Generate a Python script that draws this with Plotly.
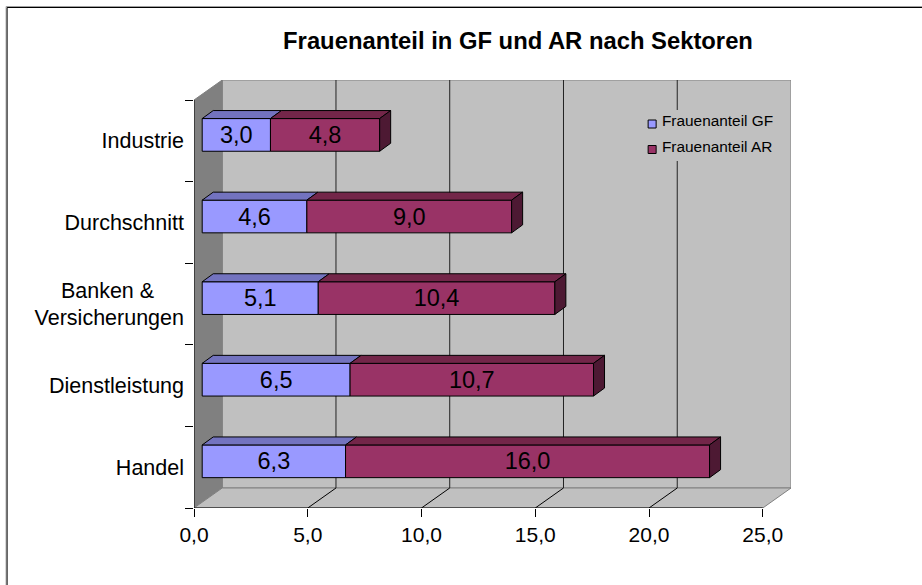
import plotly.graph_objects as go

CATEGORIES = ["Handel", "Dienstleistung", "Banken &\u00a0\u00a0\u00a0\u00a0\u00a0<br>Versicherungen", "Durchschnitt", "Industrie"]
GF_VALUES = [6.3, 6.5, 5.1, 4.6, 3.0]
AR_VALUES = [16.0, 10.7, 10.4, 9.0, 4.8]
X_TICKS = [0, 5, 10, 15, 20, 25]
SERIES_NAMES = ["Frauenanteil GF", "Frauenanteil AR"]
TITLE = "Frauenanteil in GF und AR nach Sektoren"

W, H = 922, 585
L, R, T, B = 194.3, 791.0, 80.0, 508.0
X_MAX = (R - L) / 22.74
UY = 81.6                       # px per category band
Y_MIN, Y_MAX = -0.5, -0.5 + (B - T) / UY
DX, DY = X_MAX - 25, Y_MAX - 4.5       # chart depth in axis units
BAR_OX, BAR_OY = 8.2 / 22.74, 5.9 / UY  # bar offset from front plane
BAR_DX, BAR_DY = 11 / 22.74, 8 / UY     # bar depth
BAR_W = 32.7 / UY
FONT = "Liberation Sans"

BLUE, BLUE_TOP = "#9999FF", "#7373BF"
RED, RED_TOP, RED_SIDE = "#993366", "#732649", "#4D1933"
WALL, SIDE_WALL = "#C0C0C0", "#808080"


def px_x(p):
    return (p - L) / 22.74


def px_y(p):
    return (B - p) / UY - 0.5


def paper_x(p):
    return (p - L) / (R - L)


def paper_y(p):
    return (B - p) / (B - T)


def poly(pts):
    return "M " + " L ".join(f"{x},{y}" for x, y in pts) + " Z"


shapes = []
# back wall, left wall, floor
shapes.append(dict(type="path", layer="below", xref="x", yref="y", fillcolor=WALL,
                   line=dict(color="#808080", width=1),
                   path=poly([(DX, Y_MIN + DY), (X_MAX, Y_MIN + DY), (X_MAX, Y_MAX), (DX, Y_MAX)])))
shapes.append(dict(type="path", layer="below", xref="x", yref="y", fillcolor=SIDE_WALL,
                   line=dict(color="#808080", width=1),
                   path=poly([(0, Y_MIN), (DX, Y_MIN + DY), (DX, Y_MAX), (0, 4.5)])))
shapes.append(dict(type="path", layer="below", xref="x", yref="y", fillcolor=WALL,
                   line=dict(color="#808080", width=1),
                   path=poly([(0, Y_MIN), (25, Y_MIN), (X_MAX, Y_MIN + DY), (DX, Y_MIN + DY)])))
# gridlines on wall and floor
for t in X_TICKS[1:-1]:
    shapes.append(dict(type="line", layer="below", xref="x", yref="y",
                       x0=t, y0=Y_MIN, x1=t + DX, y1=Y_MIN + DY, line=dict(color="#000000", width=1)))
    shapes.append(dict(type="line", layer="below", xref="x", yref="y",
                       x0=t + DX, y0=Y_MIN + DY, x1=t + DX, y1=Y_MAX, line=dict(color="#222222", width=1)))
# front edges
shapes.append(dict(type="line", layer="below", xref="x", yref="y", x0=0, y0=Y_MIN, x1=25, y1=Y_MIN,
                   line=dict(color="#000000", width=1)))
shapes.append(dict(type="line", layer="below", xref="x", yref="y", x0=0, y0=Y_MIN, x1=0, y1=4.5,
                   line=dict(color="#000000", width=1)))
# legend background
shapes.append(dict(type="rect", layer="below", xref="x", yref="y", fillcolor=WALL, line=dict(width=0),
                   x0=px_x(646), x1=px_x(785), y0=px_y(161), y1=px_y(110)))
# outer chart frame (left and top only reach the window edges)
for p, c in ((6.5, "#A0A0A0"), (7.5, "#000000")):
    shapes.append(dict(type="line", xref="paper", yref="paper", layer="above",
                       x0=paper_x(p), x1=paper_x(p), y0=paper_y(p), y1=paper_y(H),
                       line=dict(color=c, width=1)))
    shapes.append(dict(type="line", xref="paper", yref="paper", layer="above",
                       x0=paper_x(p), x1=paper_x(W), y0=paper_y(p), y1=paper_y(p),
                       line=dict(color=c, width=1)))

fig = go.Figure()

ys = [i + BAR_OY for i in range(len(CATEGORIES))]
gf_base = [BAR_OX] * len(GF_VALUES)
ar_base = [BAR_OX + v for v in GF_VALUES]

for name, vals, base, color in ((SERIES_NAMES[0], GF_VALUES, gf_base, BLUE),
                                (SERIES_NAMES[1], AR_VALUES, ar_base, RED)):
    fig.add_trace(go.Bar(
        name=name, orientation="h", x=vals, y=ys, base=base, width=BAR_W,
        marker=dict(color=color, line=dict(color="#000000", width=1)),
        texttemplate="%{x:.1f}", textposition="inside", insidetextanchor="middle", textangle=0,
        insidetextfont=dict(family=FONT, size=23.5, color="#000000"),
        showlegend=False,
        hovertemplate=name + ": %{x:.1f}<extra></extra>",
    ))


def face_trace(segments, color):
    xs, yy = [], []
    for pts in segments:
        for x, y in pts + [pts[0]]:
            xs.append(x)
            yy.append(y)
        xs.append(None)
        yy.append(None)
    return go.Scatter(x=xs, y=yy, mode="lines", fill="toself", fillcolor=color,
                      line=dict(color="#000000", width=1), hoverinfo="skip", showlegend=False)


def top_face(x0, x1, y):
    t = y + BAR_W / 2
    return [(x0, t), (x1, t), (x1 + BAR_DX, t + BAR_DY), (x0 + BAR_DX, t + BAR_DY)]


def side_face(x, y):
    t, b = y + BAR_W / 2, y - BAR_W / 2
    return [(x, t), (x + BAR_DX, t + BAR_DY), (x + BAR_DX, b + BAR_DY), (x, b)]


fig.add_trace(face_trace([top_face(b, b + v, y) for b, v, y in zip(gf_base, GF_VALUES, ys)], BLUE_TOP))
fig.add_trace(face_trace([top_face(b, b + v, y) for b, v, y in zip(ar_base, AR_VALUES, ys)], RED_TOP))
fig.add_trace(face_trace([side_face(b + v, y) for b, v, y in zip(ar_base, AR_VALUES, ys)], RED_SIDE))

# legend entries: swatch and label sit at slightly different heights in the reference
for name, color, py_swatch, py_text in ((SERIES_NAMES[0], BLUE, 124, 122),
                                        (SERIES_NAMES[1], RED, 149.5, 148)):
    fig.add_trace(go.Scatter(
        x=[px_x(652.2)], y=[px_y(py_swatch)], mode="markers",
        marker=dict(symbol="square", size=8, color=color, line=dict(color="#000000", width=1)),
        hoverinfo="skip", showlegend=False,
    ))
    fig.add_trace(go.Scatter(
        x=[px_x(662)], y=[px_y(py_text)], mode="text", text=[name], textposition="middle right",
        textfont=dict(family=FONT, size=15.4, color="#000000"),
        hoverinfo="skip", showlegend=False,
    ))

fig.update_layout(
    width=W, height=H, autosize=False,
    margin=dict(l=L, r=W - R, t=T, b=H - B, pad=0),
    paper_bgcolor="#FFFFFF", plot_bgcolor="rgba(0,0,0,0)",
    separators=",.", barmode="overlay", showlegend=False,
    font=dict(family=FONT, color="#000000", size=21),
    title=dict(text=f"<b>{TITLE}</b>", x=518 / W, xanchor="center", y=1 - 41 / H, yanchor="middle",
               font=dict(family=FONT, size=23.8, color="#000000")),
    shapes=shapes,
    xaxis=dict(range=[0, X_MAX], tickmode="array", tickvals=X_TICKS, tickformat=".1f",
               ticks="outside", ticklen=8, tickcolor="#000000", tickwidth=1,
               showgrid=False, zeroline=False, showline=False,
               tickfont=dict(family=FONT, size=21, color="#000000")),
    yaxis=dict(range=[Y_MIN, Y_MAX], tickmode="array", tickvals=list(range(len(CATEGORIES))),
               ticktext=CATEGORIES, ticks="", showgrid=False, zeroline=False, showline=False,
               ticklabelstandoff=9,
               minor=dict(tickmode="array", tickvals=[i - 0.5 for i in range(len(CATEGORIES) + 1)],
                          ticks="outside", ticklen=8, tickcolor="#000000", tickwidth=1, showgrid=False),
               tickfont=dict(family=FONT, size=21.5, color="#000000")),
)

fig.write_html("out.html", config={"displayModeBar": False},
               post_script="document.body.style.margin='0';")
